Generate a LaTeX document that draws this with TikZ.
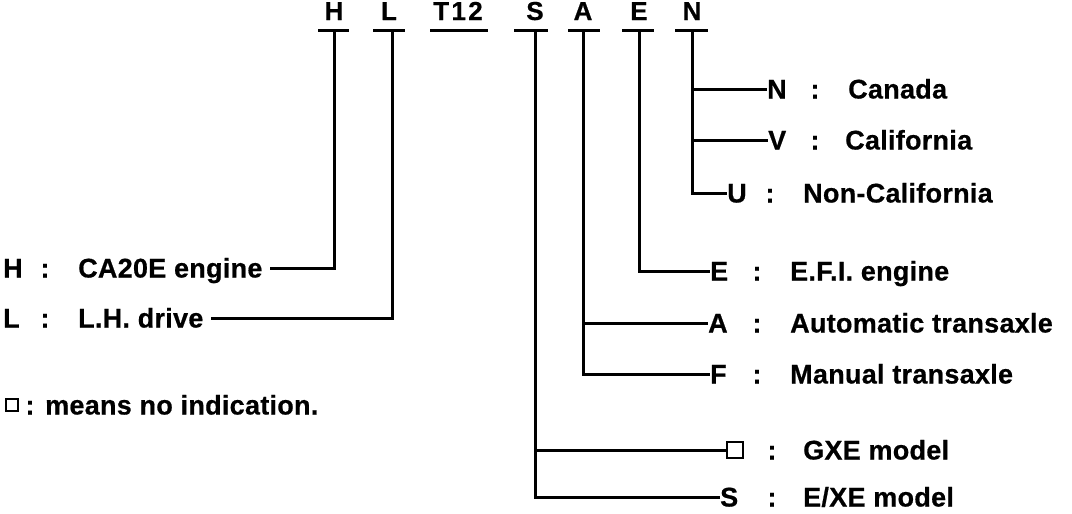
\documentclass[tikz,border=0pt]{standalone}
\usepackage{fontspec}
\setmainfont{Liberation Sans}
\newfontfamily\codefont{Liberation Sans Bold}[LetterSpace=9, FakeBold=0.6]
\newfontfamily\lblfont{Liberation Sans Bold}[LetterSpace=1, FakeBold=0.6]

\tikzset{
  code/.style={font=\codefont\fontsize{26}{26}\selectfont, anchor=base, inner sep=0pt},
  key/.style={font=\lblfont\fontsize{27}{27}\selectfont, anchor=west, inner sep=0pt, text height=19pt, text depth=0pt},
  colon/.style={key, anchor=center},
  wire/.style={line width=3pt},
  blank/.style={draw, line width=2.2pt, inner sep=0pt, minimum size=16pt, anchor=west}
}

\begin{document}
\begin{tikzpicture}[x=1pt, y=-1pt]
\useasboundingbox (0,0) rectangle (1072,514);

% ── Code letters ──
\foreach \n/\x in {H/334, L/389, T12/458, S/535, A/583, E/639, N/692} {
    \node[code] (code\n) at (\x, 20) {\n};
}

% ── Underline bars and stem tops ──
\foreach \a/\b in {318/349, 373/405, 430/488, 514/548, 568/600, 622/654, 675/708} {
    \draw[wire] (\a, 30) -- (\b, 30);
}
\coordinate (topH) at (334, 30);
\coordinate (topL) at (392, 30);
\coordinate (topS) at (535, 30);
\coordinate (topA) at (583, 30);
\coordinate (topE) at (639, 30);
\coordinate (topN) at (692, 30);

% ── Right-hand keys ──
\foreach \n/\y/\kx/\cx/\tx/\txt in {N/89/767/815/848/Canada, V/140/768/815/845/California,
    U/193/727/770/803/Non-California, E/271/710/757/790/{E.F.I. engine},
    A/323/708/757/790/{Automatic transaxle}, F/374/710/757/790/{Manual transaxle},
    S/497/720/772/803/{E/XE model}} {
    \node[key] (key\n) at (\kx, \y) {\n};
    \node[colon] (col\n) at (\cx, \y) {:};
    \node[key] (txt\n) at (\tx, \y) {\txt};
}
\node[blank] (keyQ) at (726, 450) {};
\node[colon] (colQ) at (772, 450) {:};
\node[key] (txtQ) at (803, 450) {GXE model};

% ── Left-hand keys ──
\foreach \n/\y/\txt in {H/268/{CA20E engine}, L/318/{L.H. drive}} {
    \node[key] (key\n) at (3, \y) {\n};
    \node[colon] (col\n) at (45, \y) {:};
    \node[key] (txt\n) at (78, \y) {\txt};
}

% ── Note ──
\node[blank, line width=1.6pt, minimum size=12pt] (noteBox) at (5, 405) {};
\node[colon] (noteCol) at (30, 405) {:};
\node[key] (noteTxt) at (45, 405) {means no indication.};

% ── Connectors ──
\draw[wire] (topH) |- ([xshift=7]txtH.east);
\draw[wire] (topL) |- ([xshift=7]txtL.east);
\draw[wire] (topS) |- (keyQ.west);
\draw[wire] (topS) |- (keyS.west);
\draw[wire] (topA) |- (keyA.west);
\draw[wire] (topA) |- (keyF.west);
\draw[wire] (topE) |- (keyE.west);
\draw[wire] (topN) |- (keyN.west);
\draw[wire] (topN) |- (keyV.west);
\draw[wire] (topN) |- (keyU.west);

\end{tikzpicture}
\end{document}
